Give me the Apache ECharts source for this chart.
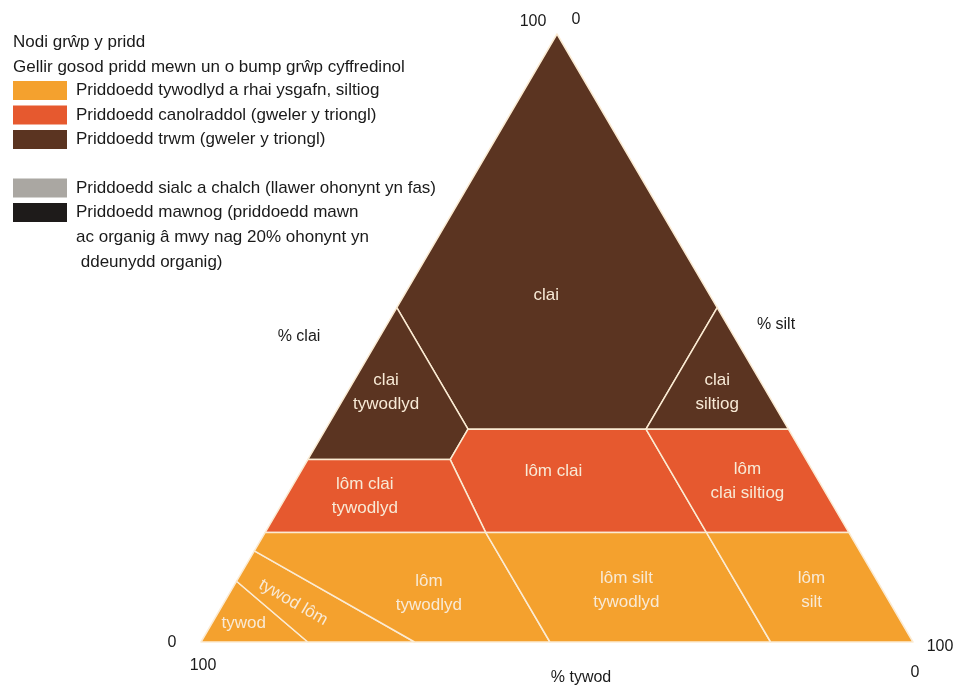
<!DOCTYPE html>
<html>
<head>
<meta charset="utf-8">
<script src="https://cdn.jsdelivr.net/npm/echarts@6/dist/echarts.min.js"></script>
<style>
html, body { margin: 0; background: #fff; }
#chart { width: 958px; height: 691px; }
</style>
</head>
<body>
<div id="chart"></div>
<script>
// texture classes, corners as [clay %, silt %] (sand is the rest)
const classNames = ['clai', 'clai\ntywodlyd', 'clai\nsiltiog', 'lôm clai', 'lôm clai\ntywodlyd',
  'lôm\nclai siltiog', 'tywod', 'tywod lôm', 'lôm\ntywodlyd', 'lôm silt\ntywodlyd', 'lôm\nsilt'];
const classGroup = [2, 2, 2, 1, 1, 1, 0, 0, 0, 0, 0];
const classCorners = [
  [[100, 0], [55, 0], [35, 20], [35, 45], [55, 45]],
  [[55, 0], [30, 0], [30, 20], [35, 20]],
  [[55, 45], [35, 45], [35, 65]],
  [[35, 20], [35, 45], [18, 62], [18, 31], [30, 20]],
  [[30, 0], [30, 20], [18, 31], [18, 0]],
  [[35, 45], [35, 65], [18, 82], [18, 62]],
  [[0, 0], [10, 0], [0, 15]],
  [[10, 0], [15, 0], [0, 30], [0, 15]],
  [[15, 0], [18, 0], [18, 31], [0, 49], [0, 30]],
  [[18, 31], [18, 62], [0, 80], [0, 49]],
  [[18, 62], [18, 82], [0, 100], [0, 80]],
];
// where each class name sits, [clay %, silt %]
const classLabelAt = [[57, 20], [41, 5.5], [41, 52], [28, 35.5], [24, 11], [26.5, 63.5],
  [3, 4.5], [6.5, 9.7], [8, 28], [8.5, 55.5], [8.5, 81.5]];

// corner ticks and axis names, anchored at [clay %, silt %]
const tickText = ['100', '0', '0', '100', '100', '0', '% clai', '% silt', '% tywod'];
const tickAt = [[100, 0], [100, 0], [0, 0], [0, 0], [0, 100], [0, 100], [50, 0], [50, 50], [0, 50]];

const groupColors = ['#F4A12E', '#E6592F', '#5B3421', '#AAA7A2', '#1E1B1A'];
const legendLabels = [
  'Priddoedd tywodlyd a rhai ysgafn, siltiog',
  'Priddoedd canolraddol (gweler y triongl)',
  'Priddoedd trwm (gweler y triongl)',
  'Priddoedd sialc a chalch (llawer ohonynt yn fas)',
  'Priddoedd mawnog (priddoedd mawn\nac organig â mwy nag 20% ohonynt yn\n ddeunydd organig)',
];

const FONT = '"Liberation Sans", Arial, sans-serif';
const toXY = (c, s) => [s + c / 2, c];

const tickOffset = [[-24, -12], [19, -14], [-29, 1], [2, 24], [27, 5], [2, 31], [-80, -1], [41, -13], [24, 36]];

const graphics = [
  { type: 'text', x: 13, y: 42, style: { text: 'Nodi grŵp y pridd', font: '17px ' + FONT, fill: '#1a1a1a', verticalAlign: 'middle' } },
  { type: 'text', x: 13, y: 67, style: { text: 'Gellir gosod pridd mewn un o bump grŵp cyffredinol', font: '17px ' + FONT, fill: '#1a1a1a', verticalAlign: 'middle' } },
];
legendLabels.forEach((label, i) => {
  const top = 81 + i * 24.5 + (i >= 3 ? 24 : 0);
  graphics.push({ type: 'rect', shape: { x: 13, y: top, width: 54, height: 19 }, style: { fill: groupColors[i] } });
  graphics.push({ type: 'text', x: 76, y: top - 3, style: { text: label, font: '17px ' + FONT, fill: '#1a1a1a', lineHeight: 25, verticalAlign: 'top' } });
});

const chart = echarts.init(document.getElementById('chart'));
chart.setOption({
  animation: false,
  grid: { left: 201, right: 45, top: 34, bottom: 49 },
  xAxis: { type: 'value', min: 0, max: 100, show: false },
  yAxis: { type: 'value', min: 0, max: 100, show: false },
  graphic: graphics,
  series: [{
    type: 'custom',
    clip: false,
    data: classNames.map((n, i) => [i]),
    renderItem(params, api) {
      const i = api.value(0);
      const pts = classCorners[i].map(([c, s]) => api.coord(toXY(c, s)));
      const at = api.coord(toXY(classLabelAt[i][0], classLabelAt[i][1]));
      return {
        type: 'group',
        children: [{
          type: 'polygon',
          shape: { points: pts },
          style: { fill: groupColors[classGroup[i]], stroke: '#FBEBD3', lineWidth: 1.5, lineJoin: 'round' },
        }, {
          type: 'text',
          x: at[0], y: at[1],
          rotation: i === 7 ? -Math.PI / 6 : 0,
          z2: 10,
          style: { text: classNames[i], font: '17px ' + FONT, fill: '#F8EAD6', align: 'center', verticalAlign: 'middle', lineHeight: 24 },
        }],
      };
    },
  }, {
    type: 'custom',
    clip: false,
    data: tickText.map((t, i) => [i]),
    renderItem(params, api) {
      const i = api.value(0);
      const p = api.coord(toXY(tickAt[i][0], tickAt[i][1]));
      return {
        type: 'text',
        x: p[0] + tickOffset[i][0], y: p[1] + tickOffset[i][1],
        style: { text: tickText[i], font: '16px ' + FONT, fill: '#1a1a1a', align: 'center', verticalAlign: 'middle' },
      };
    },
  }],
});
</script>
</body>
</html>
